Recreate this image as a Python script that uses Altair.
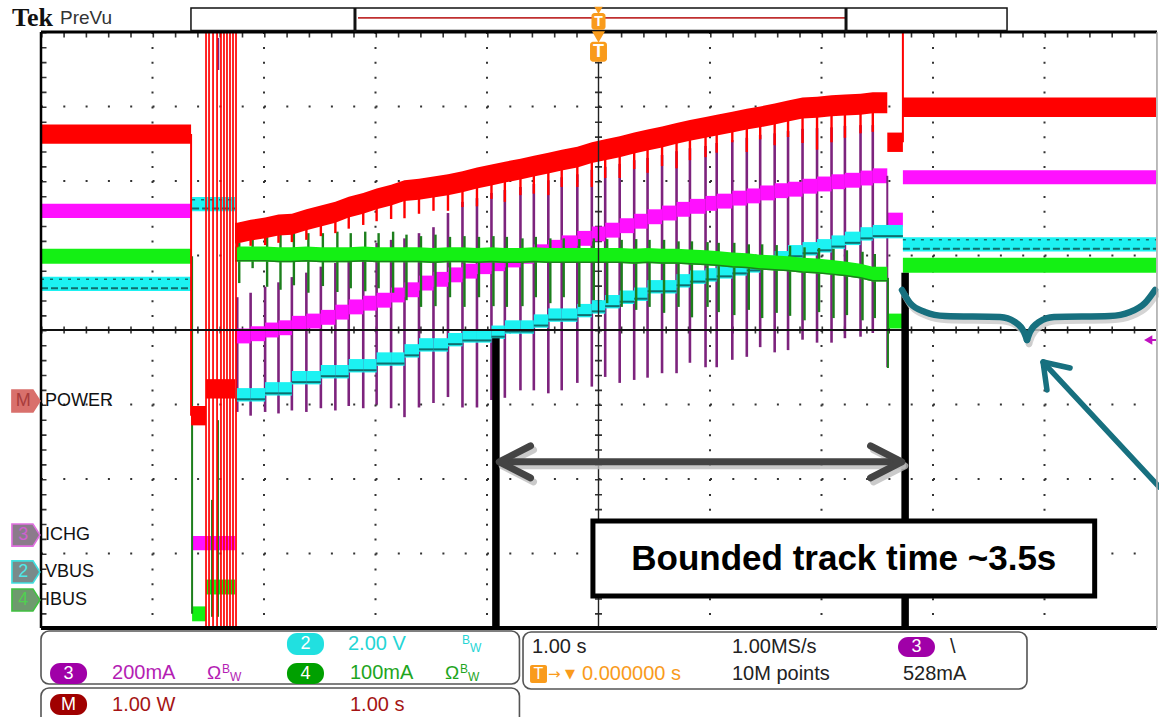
import altair as alt
import pandas as pd

# Scope screen: 10 x 8 divisions, 1.00 s/div, trigger at the centre.
# Time is in seconds, every trace level is in screen divisions.
W, H = 1115, 596
XS = alt.Scale(domain=[-5.0, 5.0], nice=False, zero=False)
YS = alt.Scale(domain=[-4.0, 4.0], nice=False, zero=False)

# ---------------------------------------------------------------- ramp data
pulse_t = [-3.24, -3.12, -2.99, -2.87, -2.75, -2.62, -2.49, -2.36, -2.24, -2.11,
           -1.99, -1.86, -1.74, -1.61, -1.48, -1.35, -1.22, -1.09, -0.96, -0.84,
           -0.70, -0.58, -0.45, -0.33, -0.19, -0.06, 0.06, 0.19, 0.32, 0.44,
           0.57, 0.70, 0.82, 0.96, 1.06, 1.20, 1.33, 1.45, 1.58, 1.70,
           1.83, 1.96, 2.09, 2.21, 2.35, 2.46]
power_level = [1.30, 1.34, 1.37, 1.41, 1.42, 1.48, 1.53, 1.58, 1.65, 1.70,
               1.76, 1.81, 1.87, 1.89, 1.92, 1.95, 1.99, 2.04, 2.08, 2.12,
               2.16, 2.20, 2.24, 2.28, 2.32, 2.38, 2.42, 2.46, 2.51, 2.55,
               2.59, 2.64, 2.68, 2.72, 2.75, 2.79, 2.83, 2.86, 2.90, 2.94,
               2.98, 2.99, 3.01, 3.02, 3.03, 3.05]
power_dip = [1.11, 1.13, 1.14, 1.17, 1.18, 1.21, 1.26, 1.30, 1.36, 1.41,
             1.46, 1.49, 1.50, 1.56, 1.60, 1.60, 1.65, 1.66, 1.76, 1.72,
             1.81, 1.83, 1.81, 1.92, 1.92, 1.92, 2.04, 2.04, 2.16, 2.11,
             2.20, 2.17, 2.28, 2.32, 2.38, 2.52, 2.39, 2.56, 2.48, 2.59,
             2.51, 2.42, 2.52, 2.58, 2.64, 2.66]
ichg_level = [-0.08, -0.05, 0.00, 0.03, 0.09, 0.12, 0.17, 0.24, 0.31, 0.36,
              0.40, 0.47, 0.54, 0.63, 0.68, 0.74, 0.79, 0.85, 0.89, 0.94,
              0.99, 1.05, 1.11, 1.17, 1.23, 1.29, 1.34, 1.40, 1.46, 1.52,
              1.57, 1.62, 1.66, 1.70, 1.73, 1.77, 1.80, 1.84, 1.87, 1.89,
              1.93, 1.96, 1.99, 2.01, 2.04, 2.07]
ichg_spike_top = [0.44, 0.50, 0.58, 0.64, 0.71, 0.77, 0.85, 0.90, 0.98, 1.07,
                  1.17, 1.21, 1.23, 1.30, 1.38, 1.57, 1.72, 1.77, 1.84, 1.88,
                  1.92, 1.96, 2.01, 2.05, 2.09, 2.15, 2.19, 2.23, 2.28, 2.31,
                  2.35, 2.40, 2.44, 2.47, 2.51, 2.55, 2.58, 2.62, 2.64, 2.67,
                  2.70, 2.71, 2.72, 2.74, 2.75, 2.75]
ichg_spike_bot = [-1.10, -1.15, -1.10, -1.12, -1.08, -1.10, -1.05, -1.08, -1.02, -1.05,
                  -1.00, -1.05, -1.17, -1.04, -0.98, -0.90, -1.04, -1.04, -0.94, -0.91,
                  -0.81, -0.81, -0.85, -0.81, -0.71, -0.76, -0.63, -0.71, -0.67, -0.64,
                  -0.58, -0.58, -0.44, -0.50, -0.50, -0.40, -0.36, -0.23, -0.30, -0.27,
                  -0.13, -0.17, -0.17, -0.11, -0.09, -0.04]
vbus_level = [-0.87, -0.87, -0.79, -0.79, -0.64, -0.64, -0.56, -0.56, -0.48, -0.48,
              -0.39, -0.39, -0.28, -0.20, -0.20, -0.13, -0.08, -0.08, -0.03, 0.04,
              0.04, 0.12, 0.20, 0.20, 0.26, 0.31, 0.38, 0.44, 0.48, 0.58,
              0.58, 0.66, 0.71, 0.74, 0.78, 0.82, 0.86, 0.91, 0.97, 1.05,
              1.09, 1.13, 1.18, 1.23, 1.29, 1.32]
ibus_level = [1.02, 1.02, 1.02, 1.01, 1.01, 1.02, 1.01, 1.01, 1.01, 1.02,
              1.01, 1.01, 1.01, 1.01, 1.00, 1.01, 1.01, 1.00, 1.01, 1.00,
              1.00, 1.01, 1.00, 1.00, 1.00, 1.00, 1.00, 1.00, 0.99, 1.00,
              0.99, 0.99, 0.98, 0.97, 0.96, 0.94, 0.93, 0.91, 0.90, 0.89,
              0.87, 0.86, 0.84, 0.82, 0.79, 0.75]
ibus_spike_top = [1.17, 1.26, 1.30, 1.30, 1.34, 1.30, 1.30, 1.32, 1.30, 1.32,
                  1.30, 1.32, 1.28, 1.26, 1.28, 1.25, 1.26, 1.25, 1.26, 1.25,
                  1.23, 1.25, 1.23, 1.23, 1.22, 1.23, 1.22, 1.21, 1.22, 1.21,
                  1.21, 1.19, 1.19, 1.18, 1.17, 1.17, 1.15, 1.15, 1.14, 1.13,
                  1.11, 1.10, 1.09, 1.07, 1.05, 1.02]
ibus_spike_bot = [0.63, 0.83, 0.58, 0.54, 0.60, 0.50, 0.59, 0.51, 0.56, 0.52,
                  0.56, 0.50, 0.40, 0.31, 0.32, 0.44, 0.31, 0.44, 0.32, 0.31,
                  0.32, 0.44, 0.36, 0.44, 0.31, 0.40, 0.36, 0.31, 0.27, 0.31,
                  0.23, 0.31, 0.17, 0.31, 0.24, 0.20, 0.27, 0.16, 0.23, 0.19,
                  0.13, 0.24, 0.16, 0.20, 0.13, 0.16]
RAMP_START, RAMP_END, RESUME_T = -3.26, 2.59, 2.73

# ------------------------------------------- flat stretches of each channel
power_flat_t0 = [-5.00, -3.654, -3.52, 2.59, 2.73]
power_flat_t1 = [-3.654, -3.52, -3.26, 2.73, 5.00]
power_flat_v = [2.63, -1.15, -0.79, 2.52, 2.99]
ichg_flat_t0 = [-5.00, -3.645, 2.59, 2.73]
ichg_flat_t1 = [-3.654, -3.26, 2.73, 5.00]
ichg_flat_v = [1.60, -2.86, 1.48, 2.05]
vbus_flat_t0 = [-5.00, -3.645, 2.73]
vbus_flat_t1 = [-3.654, -3.26, 5.00]
vbus_flat_v = [0.62, 1.69, 1.15]
ibus_flat_t0 = [-5.00, -3.645, -3.52, 2.59, 2.73]
ibus_flat_t1 = [-3.654, -3.52, -3.26, 2.73, 5.00]
ibus_flat_v = [0.99, -3.81, -3.45, 0.12, 0.87]

# start-up burst and the edges between stretches
startup_t = [-3.52, -3.493, -3.457, -3.421, -3.386, -3.359, -3.332, -3.305, -3.278, -3.251]
power_edge_t = [-3.654, 2.73]
power_edge_v0 = [2.63, 4.00]
power_edge_v1 = [-1.15, 2.52]
ibus_edge_t = [-3.645, -3.466, -3.413, 2.596]
ibus_edge_v0 = [0.99, -2.28, -1.21, 0.70]
ibus_edge_v1 = [-3.81, -3.85, -3.85, -0.51]
ichg_edge_t = [2.59, -3.41]
ichg_edge_v0 = [2.07, 3.92]
ichg_edge_v1 = [-0.50, 3.49]

grid_t = [-4, -3, -2, -1, 1, 2, 3, 4]
grid_v = [-3, -2, -1, 1, 2, 3]

RED, MAG, PURPLE, CYAN, TEAL_DK, GREEN, GREEN_DK = (
    "#ff0000", "#ff10ff", "#7d237d", "#1cf2f2", "#0e6f6f", "#14f014", "#1c7f1c")
ORANGE = "#f99b1c"
SANS = "Liberation Sans"
DOT = "#333333"


def X(f):
    return alt.X(f, type="quantitative", scale=XS, axis=None)


def Y(f):
    return alt.Y(f, type="quantitative", scale=YS, axis=None)


def band(df, color, half, opacity=1.0):
    return (alt.Chart(df)
            .transform_calculate(lo=f"datum.v - {half}", hi=f"datum.v + {half}")
            .mark_rect(color=color, opacity=opacity)
            .encode(x=X("t0"), x2=alt.X2("t1"), y=Y("lo"), y2=alt.Y2("hi")))


def vrules(df, color, width, **kw):
    return (alt.Chart(df).mark_rule(color=color, strokeWidth=width, **kw)
            .encode(x=X("t"), y=Y("v0"), y2=alt.Y2("v1")))


def texts(rows, font=SANS, weight="normal", align="left"):
    df = pd.DataFrame(rows, columns=["t", "v", "text", "color", "size"])
    return (alt.Chart(df)
            .mark_text(font=font, fontWeight=weight, align=align, baseline="middle")
            .encode(x=X("t"), y=Y("v"), text="text:N",
                    color=alt.Color("color:N", scale=None),
                    size=alt.Size("size:Q", scale=None)))


def boxes(rows, radius, stroke=None, width=0):
    df = pd.DataFrame(rows, columns=["t0", "t1", "v0", "v1", "color"])
    kw = dict(cornerRadius=radius)
    if stroke:
        kw.update(stroke=stroke, strokeWidth=width)
    return (alt.Chart(df).mark_rect(**kw)
            .encode(x=X("t0"), x2=alt.X2("t1"), y=Y("v0"), y2=alt.Y2("v1"),
                    fill=alt.Fill("color:N", scale=None)))


def path(df, color, width, **kw):
    return (alt.Chart(df).mark_line(color=color, strokeWidth=width, strokeCap="round",
                                    strokeJoin="round", **kw)
            .encode(x=X("t"), y=Y("v"), detail="g:N", order="i:Q"))


def seq(groups):
    rows = []
    for g, pts in enumerate(groups):
        for i, (t, v) in enumerate(pts):
            rows.append({"g": g, "i": i, "t": t, "v": v})
    return pd.DataFrame(rows)


one = pd.DataFrame({"a": [0]})
layers = []

# ------------------------------------------------------------------ graticule
# dotted division lines: one dot every 0.2 division
layers.append(alt.Chart(pd.DataFrame({"t": grid_t}))
              .mark_rule(color=DOT, strokeWidth=2, strokeDash=[2, 12.9])
              .encode(x=X("t"), y=alt.value(0), y2=alt.value(H)))
layers.append(alt.Chart(pd.DataFrame({"v": grid_v}))
              .mark_rule(color=DOT, strokeWidth=2, strokeDash=[2, 20.3])
              .encode(y=Y("v"), x=alt.value(0), x2=alt.value(W)))
# minor ticks along the centre lines and the frame
layers.append(alt.Chart(one).mark_rule(color=DOT, strokeWidth=7, strokeDash=[1.6, 13.3])
              .encode(x=alt.value(W / 2), y=alt.value(0), y2=alt.value(H)))
layers.append(alt.Chart(one).mark_rule(color=DOT, strokeWidth=7, strokeDash=[1.6, 20.7])
              .encode(y=alt.value(H / 2), x=alt.value(0), x2=alt.value(W)))
layers.append(alt.Chart(one).mark_rule(color=DOT, strokeWidth=5, strokeDash=[1.6, 20.7])
              .encode(y=alt.value(3), x=alt.value(0), x2=alt.value(W)))
layers.append(alt.Chart(one).mark_rule(color=DOT, strokeWidth=5, strokeDash=[1.6, 13.3])
              .encode(x=alt.value(3), y=alt.value(0), y2=alt.value(H)))

# ------------------------------------------------------------------ ICHG (ch3)
pulses = pd.DataFrame({
    "t": pulse_t, "p_top": ichg_spike_top, "p_bot": ichg_spike_bot,
    "g_top": ibus_spike_top, "g_bot": ibus_spike_bot,
    "r_mid": power_level, "r_dip": power_dip})
layers.append(alt.Chart(pulses).mark_rule(color=PURPLE, strokeWidth=2.6)
              .encode(x=X("t"), y=Y("p_top"), y2=alt.Y2("p_bot")))
ichg_steps = pd.DataFrame({"t0": [RAMP_START] + pulse_t[1:],
                           "t1": pulse_t[1:] + [RAMP_END], "v": ichg_level})
layers.append(band(ichg_steps, MAG, 0.1))
layers.append(band(pd.DataFrame({"t0": ichg_flat_t0, "t1": ichg_flat_t1, "v": ichg_flat_v}), MAG, 0.095))
layers.append(vrules(pd.DataFrame({"t": ichg_edge_t, "v0": ichg_edge_v0, "v1": ichg_edge_v1}), PURPLE, 2))

# ------------------------------------------------------------------ VBUS (ch2)
vbus_steps = pd.DataFrame({"t0": [RAMP_START] + pulse_t[1:],
                           "t1": pulse_t[1:] + [RESUME_T], "v": vbus_level})
vbus_flat = pd.DataFrame({"t0": vbus_flat_t0, "t1": vbus_flat_t1, "v": vbus_flat_v})
layers.append(band(vbus_steps, CYAN, 0.09))
layers.append(band(vbus_flat, CYAN, 0.095))
for df, dash in ((vbus_steps, [40, 0]), (vbus_flat, [7, 3])):
    layers.append(alt.Chart(df).transform_calculate(e="datum.v - 0.06")
                  .mark_rule(color=TEAL_DK, strokeWidth=2, strokeDash=dash)
                  .encode(x=X("t0"), x2=alt.X2("t1"), y=Y("e")))
layers.append(alt.Chart(vbus_flat).transform_calculate(e="datum.v + 0.06")
              .mark_rule(color=TEAL_DK, strokeWidth=1.5, strokeDash=[3, 6])
              .encode(x=X("t0"), x2=alt.X2("t1"), y=Y("e")))

# ------------------------------------------------------------------ IBUS (ch4)
layers.append(alt.Chart(pulses).mark_rule(color=GREEN_DK, strokeWidth=2.4, xOffset=2)
              .encode(x=X("t"), y=Y("g_top"), y2=alt.Y2("g_bot")))
ibus_ramp = pd.DataFrame({"t": [RAMP_START] + pulse_t + [RAMP_END],
                          "v": [ibus_level[0]] + ibus_level + [ibus_level[-1]]})
layers.append(alt.Chart(ibus_ramp)
              .transform_calculate(lo="datum.v - 0.1", hi="datum.v + 0.1")
              .mark_area(color=GREEN, opacity=1)
              .encode(x=X("t"), y=Y("lo"), y2=alt.Y2("hi")))
layers.append(alt.Chart(ibus_ramp).transform_calculate(e="datum.v - 0.09")
              .mark_line(color=GREEN_DK, strokeWidth=1.5)
              .encode(x=X("t"), y=Y("e")))
layers.append(band(pd.DataFrame({"t0": ibus_flat_t0, "t1": ibus_flat_t1, "v": ibus_flat_v}), GREEN, 0.1))
layers.append(vrules(pd.DataFrame({"t": ibus_edge_t, "v0": ibus_edge_v0, "v1": ibus_edge_v1}), GREEN_DK, 2))

# ------------------------------------------------------------------ POWER (math)
layers.append(alt.Chart(pulses).mark_rule(color=RED, strokeWidth=2.4)
              .encode(x=X("t"), y=Y("r_mid"), y2=alt.Y2("r_dip")))
power_ramp = pd.DataFrame({"t": [RAMP_START] + pulse_t + [RAMP_END],
                           "v": [power_level[0]] + power_level + [power_level[-1]]})
layers.append(alt.Chart(power_ramp)
              .transform_calculate(lo="datum.v - 0.14", hi="datum.v + 0.14")
              .mark_area(color=RED, opacity=1)
              .encode(x=X("t"), y=Y("lo"), y2=alt.Y2("hi")))
layers.append(band(pd.DataFrame({"t0": power_flat_t0, "t1": power_flat_t1, "v": power_flat_v}), RED, 0.13))
layers.append(vrules(pd.DataFrame({"t": power_edge_t, "v0": power_edge_v0, "v1": power_edge_v1}), RED, 2))
layers.append(vrules(pd.DataFrame({"t": startup_t, "v0": [4.0] * len(startup_t),
                                   "v1": [-4.0] * len(startup_t)}), RED, 1.7))

# ------------------------------------------------------------------ centre crosshair
layers.append(alt.Chart(one).mark_rule(color="#111", strokeWidth=1.8)
              .encode(y=alt.value(H / 2), x=alt.value(0), x2=alt.value(W)))
layers.append(alt.Chart(pd.DataFrame({"t": [0.0], "v0": [3.6], "v1": [-4.0]}))
              .mark_rule(color="#222", strokeWidth=1.4)
              .encode(x=X("t"), y=Y("v0"), y2=alt.Y2("v1")))

# ------------------------------------------------------------------ annotation
TRACK_T = [-0.92, 2.75]          # bounded tracking window, ~3.5 s
layers.append(vrules(pd.DataFrame({"t": TRACK_T, "v0": [-0.11, 0.77], "v1": [-4.0, -4.0]}),
                     "#000", 7.5))
arrow = seq([[(-0.87, -1.77), (2.70, -1.77)],
             [(-0.61, -1.555), (-0.89, -1.77), (-0.61, -1.985)],
             [(2.44, -1.555), (2.72, -1.77), (2.44, -1.985)]])
layers.append(path(arrow, "#bdbdbd", 7, xOffset=3, yOffset=4, opacity=0.8))
layers.append(path(arrow, "#444444", 7))
layers.append(boxes([(-0.05, 4.45, -2.565, -3.57, "white")], 0, stroke="#000", width=5))
layers.append(texts([(2.20, -3.075, "Bounded track time ~3.5s", "#000", 35)],
                    weight="bold", align="center"))
brace = seq([[(2.722, 0.537), (2.794, 0.362), (2.928, 0.242), (3.108, 0.188),
              (3.601, 0.174), (3.735, 0.107), (3.816, -0.027), (3.843, -0.134)],
             [(3.843, -0.134), (3.870, -0.027), (3.951, 0.107), (4.085, 0.174),
              (4.587, 0.188), (4.767, 0.242), (4.901, 0.362), (4.991, 0.537)]])
layers.append(path(brace, "#c9c9c9", 6.5, xOffset=2, yOffset=4, interpolate="monotone", opacity=0.8))
layers.append(path(brace, "#17707f", 6.5, interpolate="monotone"))
teal_arrow = seq([[(3.987, -0.43), (5.03, -2.11)],
                  [(4.229, -0.51), (3.987, -0.43), (4.022, -0.805)]])
layers.append(path(teal_arrow, "#17707f", 5.5))

# trigger level marker of ch3 on the right edge
layers.append(alt.Chart(pd.DataFrame({"t": [4.93], "v": [-0.134]}))
              .mark_point(shape="triangle-left", filled=True, size=90, color="#c010c0", opacity=1)
              .encode(x=X("t"), y=Y("v")))
layers.append(alt.Chart(pd.DataFrame({"t0": [4.93], "t1": [5.0], "v": [-0.134]}))
              .mark_rule(color="#c010c0", strokeWidth=2)
              .encode(x=X("t0"), x2=alt.X2("t1"), y=Y("v")))

# ------------------------------------------------------------------ frame
layers.append(alt.Chart(one).mark_rule(color="#000", strokeWidth=3)
              .encode(y=alt.value(0), x=alt.value(0), x2=alt.value(W + 1)))
layers.append(alt.Chart(one).mark_rule(color="#000", strokeWidth=4)
              .encode(y=alt.value(H), x=alt.value(0), x2=alt.value(W + 1)))
layers.append(alt.Chart(one).mark_rule(color="#000", strokeWidth=2.5)
              .encode(x=alt.value(0), y=alt.value(0), y2=alt.value(H)))
layers.append(alt.Chart(one).mark_rule(color="#aaa", strokeWidth=1.5)
              .encode(x=alt.value(W + 1), y=alt.value(0), y2=alt.value(H)))

# ------------------------------------------------------------------ header
layers.append(texts([(-5.26, 4.19, "Tek", "#111", 26)], font="Liberation Serif", weight="bold"))
layers.append(texts([(-4.83, 4.19, "PreVu", "#333", 19)]))
layers.append(boxes([(-3.655, 3.664, 4.322, 4.02, "white")], 0, stroke="#111", width=1.5))
layers.append(alt.Chart(pd.DataFrame({"t0": [-2.157], "t1": [2.211], "v": [4.19]}))
              .mark_rule(color="#c03030", strokeWidth=1.6)
              .encode(x=X("t0"), x2=alt.X2("t1"), y=Y("v")))
layers.append(vrules(pd.DataFrame({"t": [-2.184, 2.220], "v0": [4.322, 4.322], "v1": [4.0, 4.0]}),
                     "#111", 3))
layers.append(alt.Chart(pd.DataFrame({"t": [0.0, 0.0], "v": [4.29, 3.935], "s": [70, 170]}))
              .mark_point(shape="triangle-down", filled=True, color=ORANGE, opacity=1)
              .encode(x=X("t"), y=Y("v"), size=alt.Size("s:Q", scale=None)))
layers.append(boxes([(-0.063, 0.063, 4.255, 4.03, ORANGE), (-0.076, 0.076, 3.87, 3.60, ORANGE)], 3))
layers.append(texts([(0.0, 4.14, "T", "white", 14), (0.0, 3.735, "T", "white", 18)],
                    weight="bold", align="center"))

# ------------------------------------------------------------------ channel markers
PENT = "M-1,-0.79L0.5,-0.79L1,0L0.5,0.79L-1,0.79Z"
marks = pd.DataFrame({"t": [-5.135, -5.135, -5.135, -5.135],
                      "v": [-0.953, -2.752, -3.248, -3.624],
                      "fill": ["#d9706c", "#8b7b8b", "#798a8a", "#6e9a6e"],
                      "stroke": ["#d9706c", "#e070e0", "#40e0e0", "#40c040"]})
layers.append(alt.Chart(marks).mark_point(shape=PENT, size=784, filled=True, strokeWidth=1.6, opacity=1)
              .encode(x=X("t"), y=Y("v"), fill=alt.Fill("fill:N", scale=None),
                      stroke=alt.Stroke("stroke:N", scale=None)))
layers.append(texts([(-5.16, -0.953, "M", "#a83c3c", 18), (-5.16, -2.752, "3", "#d060d0", 18),
                     (-5.16, -3.248, "2", "#50e8e8", 18), (-5.16, -3.624, "4", "#50d050", 18)],
                    align="center"))
layers.append(texts([(-4.964, -0.953, "POWER", "#111", 18), (-4.964, -2.752, "ICHG", "#111", 18),
                     (-4.964, -3.248, "VBUS", "#111", 18), (-4.964, -3.624, "IBUS", "#111", 18)]))

# ------------------------------------------------------------------ readout boxes
layers.append(boxes([(-5.0, -0.709, -4.040, -4.752, "white"),
                     (-5.0, -0.709, -4.805, -5.40, "white"),
                     (-0.677, 3.843, -4.054, -4.819, "white")], 8, stroke="#555", width=1.6))
layers.append(boxes([(-2.794, -2.462, -4.067, -4.362, "#21e0e0"),
                     (-4.919, -4.587, -4.470, -4.752, "#a000a8"),
                     (-2.794, -2.462, -4.470, -4.752, "#00a000"),
                     (-4.919, -4.587, -4.886, -5.168, "#a00000"),
                     (2.686, 3.018, -4.121, -4.389, "#a000a8")], 10))
layers.append(boxes([(-0.614, -0.462, -4.497, -4.738, ORANGE)], 2))
layers.append(texts([(-2.628, -4.215, "2", "white", 18), (-4.753, -4.611, "3", "white", 18),
                     (-2.628, -4.611, "4", "white", 18), (-4.753, -5.027, "M", "white", 18),
                     (2.852, -4.255, "3", "white", 18), (-0.538, -4.617, "T", "white", 16)],
                    align="center"))
layers.append(texts([
    (-2.247, -4.215, "2.00 V", "#25d5d5", 20),
    (-1.224, -4.16, "B", "#25d5d5", 12), (-1.152, -4.27, "W", "#25d5d5", 12),
    (-4.363, -4.604, "200mA", "#b41eb4", 20),
    (-3.511, -4.604, "\u03a9", "#b41eb4", 19),
    (-3.377, -4.55, "B", "#b41eb4", 12), (-3.305, -4.66, "W", "#b41eb4", 12),
    (-2.229, -4.604, "100mA", "#1ea51e", 20),
    (-1.377, -4.604, "\u03a9", "#1ea51e", 19),
    (-1.242, -4.55, "B", "#1ea51e", 12), (-1.170, -4.66, "W", "#1ea51e", 12),
    (-4.363, -5.034, "1.00 W", "#a51414", 20),
    (-2.229, -5.034, "1.00 s", "#a51414", 20),
    (-0.596, -4.255, "1.00 s", "#222", 20),
    (1.197, -4.255, "1.00MS/s", "#222", 20),
    (3.152, -4.255, "\\", "#222", 20),
    (-0.148, -4.617, "0.000000 s", ORANGE, 20),
    (1.197, -4.617, "10M points", "#222", 20),
    (2.730, -4.617, "528mA", "#222", 20),
]))
layers.append(texts([(-0.453, -4.617, "\u2192", ORANGE, 15), (-0.30, -4.617, "\u25bc", ORANGE, 13)],
                    font="DejaVu Sans"))

chart = (alt.layer(*layers)
         .properties(width=W, height=H,
                     padding={"left": 41, "top": 32, "right": 3, "bottom": 89},
                     autosize=alt.AutoSizeParams(type="none"))
         .configure_view(stroke=None)
         .configure(background="white"))

chart.save("out.html", embed_options={"renderer": "svg", "actions": False})
